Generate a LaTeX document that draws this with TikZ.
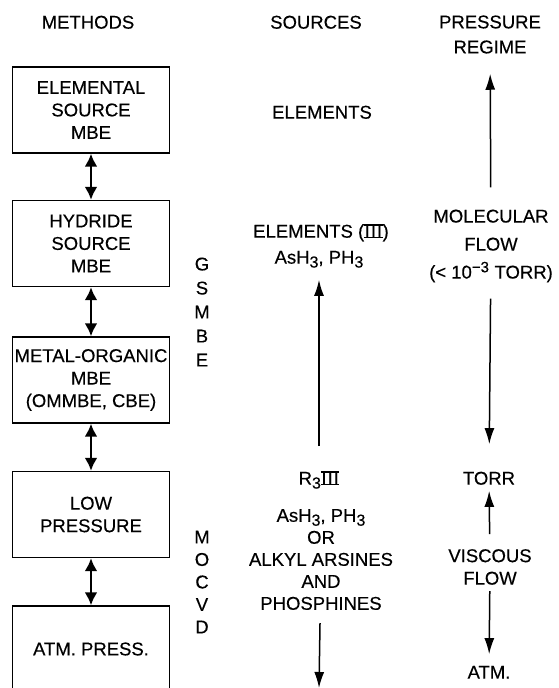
\documentclass[tikz,border=0pt]{standalone}
\usepackage{fontspec}
\setmainfont{Liberation Sans}[FakeBold=0.35]
\usetikzlibrary{arrows.meta}
\newcommand{\romthree}{\setbox0\hbox{\kern0.5pt I\kern1pt I\kern1pt I\kern0.5pt}%
  \rlap{\rule[-0.7pt]{\wd0}{1.4pt}}\rlap{\rule[\dimexpr\ht0-0.7pt]{\wd0}{1.4pt}}\box0}
\newcommand{\sub}[1]{\raisebox{-0.4ex}{\fontsize{16}{16}\selectfont #1}}
\newcommand{\lettering}{\fontsize{18.5}{22.5}\selectfont}
\tikzset{
  method/.style={draw, line width=1.3pt, minimum width=157pt, minimum height=86pt,
    align=center, inner sep=0pt, font=\lettering},
  txt/.style={inner sep=0pt, text height=13.3pt, text depth=0pt, font=\lettering},
  txtstack/.style={inner sep=0pt, align=center, font=\lettering},
  link/.style={line width=2.8pt, {Latex[length=13pt,width=13pt]}-{Latex[length=13pt,width=13pt]}},
  flow/.style={line width=1.5pt, -{Latex[length=16pt,width=10pt]}}
}
\begin{document}
\begin{tikzpicture}[x=1pt,y=-1pt]
\clip (0,0) rectangle (559,688);

% --- Column heads ---
\node[txt] (hmeth) at (88,22) {METHODS};
\node[txt] (hsrc) at (316,22) {SOURCES};
\node[txtstack, font={\fontsize{18.5}{25}\selectfont}] (hpres) at (490,34.5) {PRESSURE\\REGIME};

% --- Methods ---
\node[method] (elem) at (91,110) {ELEMENTAL\\SOURCE\\MBE};
\node[method] (hyd) at (91,243.5) {HYDRIDE\\SOURCE\\MBE};
\node[method] (mo) at (91,380) {METAL-ORGANIC\\MBE\\(OMMBE, CBE)};
\node[method] (lowp) at (91,514.5) {LOW\\PRESSURE};
\node[method] (atmp) at (91,649) {ATM. PRESS.};

\draw[link] (elem) -- (hyd);
\draw[link] (hyd) -- (mo);
\draw[link] (mo) -- (lowp);
\draw[link] (lowp) -- (atmp);

% Vertical acronyms
\node[txtstack, font={\fontsize{18.5}{24}\selectfont}] (gsmbe) at (202,312) {G\\S\\M\\B\\E};
\node[txtstack, font={\fontsize{18.5}{22.5}\selectfont}] (mocvd) at (202,582) {M\\O\\C\\V\\D};

% --- Sources ---
\node[txt] (els) at (322,112) {ELEMENTS};
\node[txt] (els3) at (321,231) {ELEMENTS (\romthree)};
\node[txt] (hyds) at (319,257) {AsH\sub{3}, PH\sub{3}};
\node[txt] (rthree) at (319,478) {R\sub{3}\romthree};
\node[txtstack, font={\fontsize{18.5}{22}\selectfont}] (alkyl) at (321,559.5)
  {AsH\sub{3}, PH\sub{3}\\OR\\ALKYL ARSINES\\AND\\PHOSPHINES};
\coordinate (srcend) at (319,688);

\draw[flow, shorten <=25pt, shorten >=16pt] (rthree) -- (hyds);
\draw[flow, shorten <=13pt] (alkyl) -- (srcend);

% --- Pressure regime ---
\node[txtstack, font={\fontsize{18.5}{28}\selectfont}] (molec) at (491,246)
  {MOLECULAR\\FLOW\\(< 10\textsuperscript{\fontsize{15}{15}\selectfont −3} TORR)};
\node[txt] (torr) at (489,478) {TORR};
\node[txtstack] (visc) at (490,567) {VISCOUS\\FLOW};
\node[txt] (atm) at (489,672) {ATM.};

\draw[flow, shorten <=22pt, shorten >=20pt] (molec) -- (hpres);
\draw[flow, shorten <=16pt, shorten >=27pt] (molec) -- (torr);
\draw[flow, shorten <=15pt, shorten >=6pt] (visc) -- (torr);
\draw[flow, shorten <=6pt, shorten >=11pt] (visc) -- (atm);

\end{tikzpicture}
\end{document}
